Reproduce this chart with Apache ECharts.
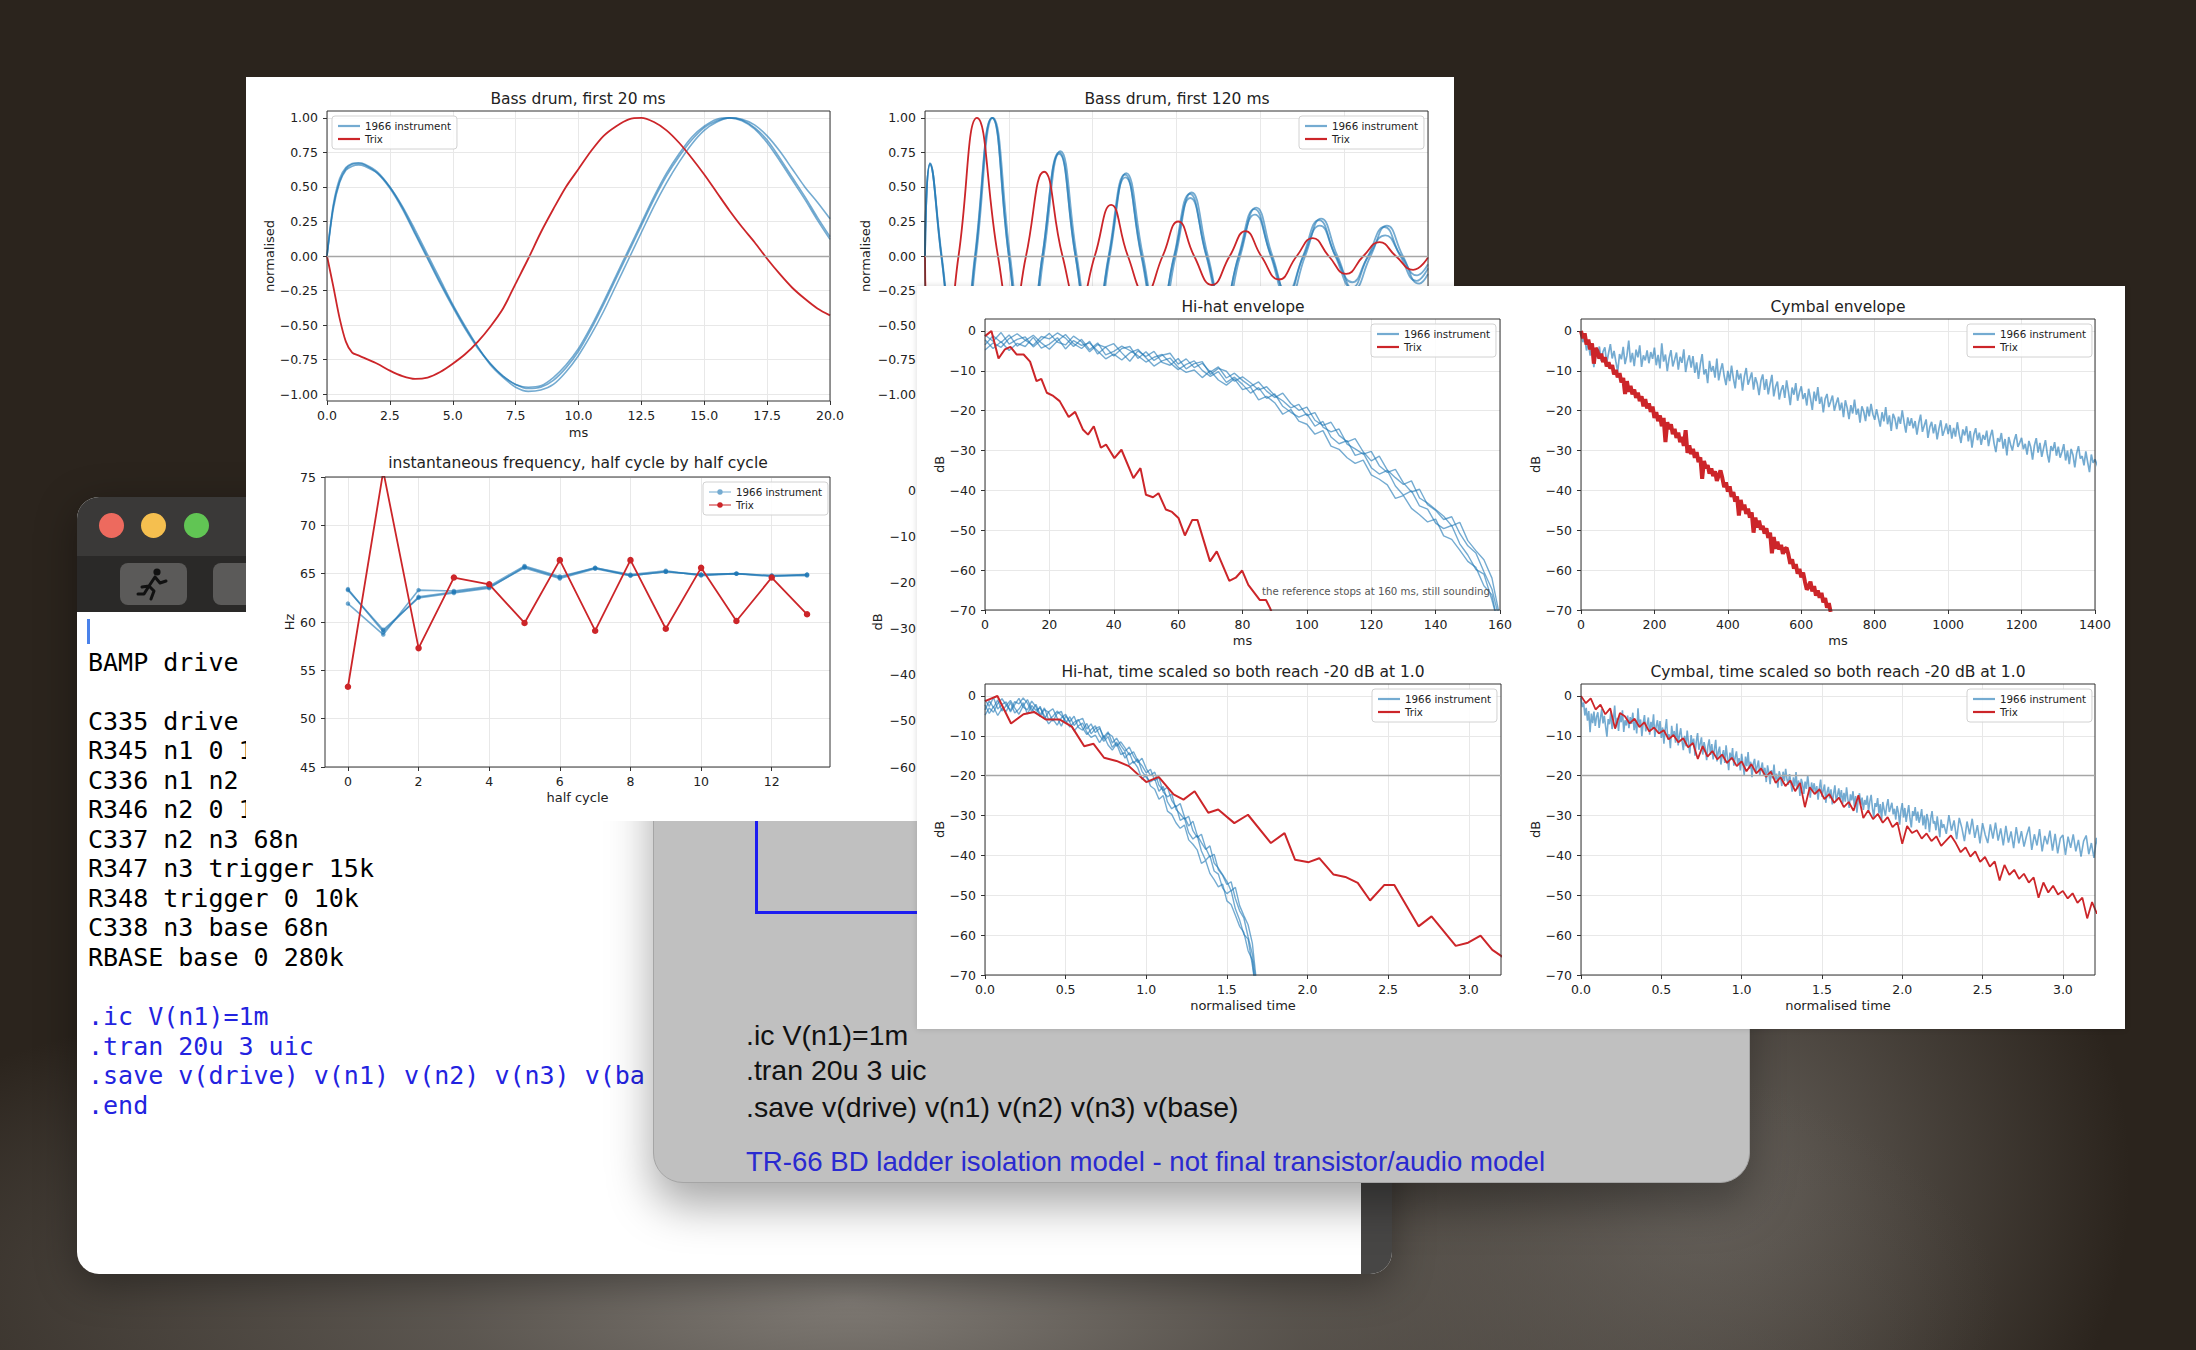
<!DOCTYPE html>
<html>
<head>
<meta charset="utf-8">
<script src="https://cdn.jsdelivr.net/npm/echarts@6/dist/echarts.min.js"></script>
<style>
html,body{margin:0;padding:0;width:2196px;height:1350px;overflow:hidden;}
body{position:relative;background:
 radial-gradient(ellipse 1150px 360px at 850px 1300px, rgba(128,123,117,1) 0%, rgba(100,95,89,0.85) 35%, rgba(43,36,29,0) 100%),
 radial-gradient(ellipse 430px 430px at 1700px 1180px, rgba(110,105,99,0.9) 0%, rgba(43,36,29,0) 100%),
 #2b241d;}
#editor{position:absolute;left:77px;top:497px;width:1315px;height:777px;border-radius:22px;overflow:hidden;background:#fff;box-shadow:0 10px 40px rgba(0,0,0,0.35);}
#editor .titlebar{position:absolute;left:0;top:0;width:100%;height:59px;background:#3a3938;}
#editor .toolbar{position:absolute;left:0;top:59px;width:100%;height:56px;background:#2a2928;}
.tl{position:absolute;top:15.5px;width:25px;height:25px;border-radius:50%;}
.tl.r{left:21.5px;background:#ed6a5e;}
.tl.y{left:63.5px;background:#f5bf4f;}
.tl.g{left:106.5px;background:#61c554;}
.btn{position:absolute;top:7px;height:42px;width:67px;border-radius:8px;background:#5b5a59;}
#editor .rstrip{position:absolute;right:0;top:115px;bottom:0;width:31px;background:#474645;}
#editor .cursor{position:absolute;left:10px;top:122px;width:3px;height:25px;background:#4a82ea;}
#editor .code{position:absolute;left:11px;top:121px;margin:0;font:25px/29.55px 'DejaVu Sans Mono',monospace;color:#000;white-space:pre;}
#editor .code div{height:29.55px;}
#editor .code .b{color:#2323df;}
#grey{position:absolute;left:653px;top:680px;width:1097px;height:503px;background:#c0c0c0;border-radius:0 0 30px 30px;box-shadow:0 22px 45px rgba(0,0,0,0.35);border:1px solid #a5a5a5;box-sizing:border-box;}
#grey .vl{position:absolute;left:101px;top:0;width:3px;height:233px;background:#1d1df0;}
#grey .hl{position:absolute;left:101px;top:230px;width:200px;height:3px;background:#1d1df0;}
#grey .t{position:absolute;left:92px;font:28.5px/34px 'Liberation Sans',Arial,sans-serif;color:#111;white-space:pre;}
#grey .t.b{color:#2a2ad0;font-size:27.6px;}
#p1{position:absolute;left:246px;top:77px;width:1208px;height:744px;background:#fff;}
#p2{position:absolute;left:917px;top:286px;width:1208px;height:743px;background:#fff;box-shadow:0 0 6px rgba(0,0,0,0.15);}
.chart{position:absolute;left:0;top:0;width:100%;height:100%;}
</style>
</head>
<body>
<div id="editor">
  <div class="titlebar"><span class="tl r"></span><span class="tl y"></span><span class="tl g"></span></div>
  <div class="toolbar">
    <div class="btn" style="left:43px;">
      <svg width="67" height="42" viewBox="0 0 67 42"><g stroke="#111" stroke-width="3" fill="none" stroke-linecap="round" stroke-linejoin="round"><circle cx="37" cy="9" r="3.6" fill="#111" stroke="none"/><path d="M35 14 L29 23 L22 24 M35 14 L40 20 L46 18 M29 23 L34 28 L31 36 M29 23 L24 31 L18 31"/></g></svg>
    </div>
    <div class="btn" style="left:136px;"></div>
  </div>
  <div class="cursor"></div>
  <div class="code"><div></div><div>BAMP drive</div><div></div><div>C335 drive</div><div>R345 n1 0 1</div><div>C336 n1 n2</div><div>R346 n2 0 1</div><div>C337 n2 n3 68n</div><div>R347 n3 trigger 15k</div><div>R348 trigger 0 10k</div><div>C338 n3 base 68n</div><div>RBASE base 0 280k</div><div></div><div class="b">.ic V(n1)=1m</div><div class="b">.tran 20u 3 uic</div><div class="b">.save v(drive) v(n1) v(n2) v(n3) v(ba</div><div class="b">.end</div></div>
  <div class="rstrip"></div>
</div>

<div id="grey">
  <div class="vl"></div><div class="hl"></div>
  <div class="t" style="top:337px;">.ic V(n1)=1m</div>
  <div class="t" style="top:372px;">.tran 20u 3 uic</div>
  <div class="t" style="top:409px;">.save v(drive) v(n1) v(n2) v(n3) v(base)</div>
  <div class="t b" style="top:464px;">TR-66 BD ladder isolation model - not final transistor/audio model</div>
</div>

<div id="p1"><div id="c1" class="chart"></div></div>
<div id="p2"><div id="c2" class="chart"></div></div>

<script>
// ===================== DATA =====================
const seriesNames = ['1966 instrument', 'Trix'];

// --- Bass drum, first 20 ms (ms, normalised) ---
const bd20Time = [0,0.25,0.5,0.75,1,1.25,1.5,2,2.5,3,3.5,4,4.5,5,5.5,6,6.5,7,7.5,8,8.5,9,9.5,10,10.5,11,11.5,12,12.5,13,13.5,14,14.5,15,15.5,16,16.5,17,17.5,18,18.5,19,19.5,20];
const bd20BlueA = [0,0.36,0.54,0.63,0.665,0.67,0.66,0.6,0.49,0.34,0.16,-0.02,-0.2,-0.37,-0.53,-0.67,-0.78,-0.87,-0.93,-0.95,-0.94,-0.88,-0.79,-0.67,-0.51,-0.33,-0.14,0.05,0.24,0.43,0.6,0.74,0.86,0.94,0.99,1.0,0.98,0.92,0.82,0.69,0.55,0.41,0.26,0.12];
const bd20BlueB = [0,0.34,0.53,0.62,0.65,0.66,0.65,0.6,0.5,0.36,0.19,0.01,-0.17,-0.35,-0.51,-0.66,-0.79,-0.88,-0.95,-0.98,-0.97,-0.93,-0.84,-0.72,-0.57,-0.4,-0.21,-0.02,0.17,0.36,0.53,0.68,0.81,0.91,0.97,1.0,0.99,0.95,0.87,0.76,0.63,0.5,0.39,0.27];
const bd20BlueC = [0,0.37,0.56,0.64,0.67,0.675,0.665,0.61,0.5,0.35,0.17,-0.01,-0.19,-0.36,-0.52,-0.66,-0.78,-0.87,-0.93,-0.96,-0.95,-0.9,-0.81,-0.69,-0.53,-0.35,-0.16,0.03,0.22,0.41,0.58,0.72,0.84,0.93,0.98,1.0,0.985,0.93,0.84,0.71,0.57,0.43,0.28,0.14];
const bd20Trix  = [0,-0.22,-0.45,-0.62,-0.7,-0.72,-0.74,-0.78,-0.83,-0.87,-0.89,-0.88,-0.84,-0.78,-0.71,-0.62,-0.51,-0.38,-0.2,-0.02,0.17,0.34,0.5,0.63,0.76,0.87,0.94,0.99,1.0,0.97,0.91,0.82,0.71,0.59,0.46,0.33,0.21,0.1,-0.02,-0.13,-0.23,-0.31,-0.38,-0.43];

// --- Bass drum, first 120 ms: [ms, normalised] at peaks / zero crossings ---
const bd120BlueA = [[0,0],[1.2,0.67],[3.9,0],[8.1,-0.95],[11.9,0],[16.0,1.0],[20.0,0],[24.0,-0.85],[28.0,0],[32.0,0.75],[35.9,0],[39.9,-0.66],[43.8,0],[47.7,0.59],[51.6,0],[55.5,-0.52],[59.4,0],[63.2,0.45],[67.1,0],[71.0,-0.39],[74.8,0],[78.6,0.34],[82.5,0],[86.3,-0.3],[90.2,0],[94.0,0.26],[97.9,0],[101.8,-0.23],[105.7,0],[109.6,0.21],[113.4,0],[117.3,-0.18],[120,-0.09]];
const bd120BlueB = [[0,0],[1.2,0.66],[4.0,0],[8.3,-0.98],[12.2,0],[16.2,1.0],[20.3,0],[24.3,-0.87],[28.3,0],[32.3,0.76],[36.2,0],[40.2,-0.68],[44.1,0],[48.0,0.6],[52.0,0],[55.9,-0.53],[59.8,0],[63.6,0.46],[67.5,0],[71.4,-0.41],[75.2,0],[79.0,0.35],[82.9,0],[86.8,-0.31],[90.7,0],[94.5,0.27],[98.4,0],[102.3,-0.24],[106.3,0],[110.2,0.22],[114.0,0],[117.9,-0.2],[120,-0.13]];
const bd120BlueC = [[0,0],[1.2,0.67],[3.9,0],[8.1,-0.96],[12.0,0],[16.0,1.0],[20.0,0],[24.1,-0.83],[28.0,0],[32.0,0.74],[35.9,0],[39.9,-0.63],[43.9,0],[47.8,0.57],[51.7,0],[55.6,-0.48],[59.5,0],[63.3,0.42],[67.2,0],[71.1,-0.36],[74.9,0],[78.7,0.3],[82.6,0],[86.4,-0.26],[90.3,0],[94.2,0.22],[98.0,0],[101.9,-0.19],[105.8,0],[109.8,0.15],[113.6,0],[117.4,-0.14],[120,-0.06]];
const bd120Trix  = [[0,0],[0.9,-0.68],[3.5,-0.89],[8.0,0],[12.4,1.0],[17.4,0],[20.75,-0.47],[24.1,0],[28.4,0.61],[32.8,0],[36.65,-0.36],[40.5,0],[44.4,0.37],[48.4,0],[52.55,-0.27],[56.7,0],[60.4,0.25],[64.2,0],[68.45,-0.21],[72.7,0],[76.45,0.18],[80.2,0],[84.45,-0.17],[88.7,0],[92.5,0.13],[96.3,0],[100.45,-0.13],[104.6,0],[108.45,0.1],[112.3,0],[116.45,-0.1],[120,-0.01]];

// --- instantaneous frequency (Hz) per half cycle ---
const halfCycles = [0,1,2,3,4,5,6,7,8,9,10,11,12,13];
const freqBlue1 = [63.3,59.2,62.5,63.0,63.5,65.7,64.6,65.6,64.8,65.2,64.9,65.0,64.8,64.9];
const freqBlue2 = [61.9,58.7,63.3,63.2,63.7,65.8,64.7,65.6,64.9,65.3,64.8,65.0,64.7,64.9];
const freqBlue3 = [63.4,59.0,62.6,63.1,63.6,65.6,64.5,65.5,64.8,65.2,64.9,65.0,64.8,64.8];
const freqTrix  = [53.3,75.6,57.3,64.6,63.9,59.9,66.4,59.1,66.4,59.3,65.6,60.1,64.6,60.8];

// --- Hi-hat envelope (dB), sampled every hatStepMs ---
const hatStepMs = 2.5;
const hatBlue1 = [-1.0,-2.6,-0.4,-3.3,-2.1,-1.5,-4.0,-2.2,-0.6,-2.8,-3.5,-1.3,-2.7,-5.2,-3.4,-4.1,-6.3,-4.4,-3.9,-6.9,-5.2,-7.4,-6.1,-5.6,-8.3,-7.0,-9.2,-8.1,-10.3,-9.0,-11.8,-10.6,-12.4,-13.9,-12.8,-15.1,-16.7,-15.6,-18.2,-19.9,-19.1,-22.4,-23.7,-22.9,-26.2,-27.8,-27.0,-30.3,-32.6,-31.4,-34.9,-36.8,-38.5,-37.6,-41.9,-43.2,-44.8,-46.5,-48.9,-48.0,-52.6,-55.1,-57.4,-62.0,-72.0];
const hatBlue2 = [-3.5,-1.2,-2.9,-1.0,-3.8,-2.4,-1.1,-3.0,-4.6,-2.5,-0.9,-3.2,-4.4,-2.6,-5.8,-4.0,-3.2,-5.5,-7.6,-5.0,-6.4,-5.1,-7.9,-8.6,-6.9,-9.5,-8.2,-7.7,-10.9,-9.4,-10.1,-12.6,-11.5,-13.0,-14.8,-14.0,-16.2,-17.5,-19.3,-18.4,-21.2,-20.5,-24.1,-25.3,-24.6,-28.4,-29.6,-30.9,-30.2,-33.8,-35.5,-34.7,-38.1,-40.4,-39.7,-43.6,-45.0,-47.3,-46.6,-50.8,-53.9,-55.7,-60.4,-64.8,-73.0];
const hatBlue3 = [-4.8,-3.0,-4.1,-1.9,-0.7,-2.3,-3.6,-1.4,-2.0,-0.5,-1.8,-3.9,-2.1,-4.7,-3.0,-6.0,-5.1,-3.8,-4.9,-6.2,-7.8,-6.6,-5.9,-8.0,-9.7,-8.4,-7.5,-9.9,-11.4,-10.2,-12.9,-11.6,-13.4,-15.6,-14.2,-16.9,-15.8,-18.9,-20.4,-21.6,-20.8,-23.9,-22.7,-26.6,-28.3,-27.5,-31.2,-30.6,-34.3,-35.9,-35.0,-38.9,-41.2,-40.1,-43.9,-44.7,-48.2,-49.6,-48.8,-53.4,-56.2,-59.8,-61.0,-67.5,-75.0];
const hatBlue4 = [-2.2,-4.4,-2.7,-4.9,-3.1,-3.9,-1.6,-4.3,-3.3,-1.7,-4.5,-2.4,-3.6,-3.0,-5.0,-7.0,-5.8,-7.3,-5.5,-4.6,-6.7,-8.8,-7.5,-6.8,-9.1,-10.4,-9.8,-11.7,-10.0,-12.3,-13.6,-12.0,-14.7,-14.1,-17.3,-16.4,-18.0,-20.9,-19.7,-22.6,-23.4,-25.9,-25.0,-28.9,-29.7,-31.8,-33.2,-32.4,-36.1,-37.2,-38.6,-42.0,-41.3,-44.5,-46.1,-47.9,-47.2,-51.4,-52.3,-55.0,-57.8,-59.3,-63.9,-66.2,-76.0];
// Trix hi-hat envelope: [ms, dB]
const hatTrix = [[0,-1.3],[2,0],[4.2,-6.9],[6.2,-4.6],[7.9,-4.0],[9.8,-5.9],[12.0,-5.9],[14.0,-7.7],[16.0,-12.6],[17.5,-12.0],[19.2,-15.5],[21.2,-16.3],[23.2,-17.6],[26.0,-21.6],[28.0,-20.3],[30.4,-24.7],[32.0,-26.0],[33.8,-23.9],[36.0,-29.3],[37.6,-28.5],[40.2,-31.9],[42.4,-29.8],[46.1,-36.9],[48.3,-34.4],[50.0,-41.1],[52.2,-41.7],[53.9,-40.7],[56.2,-44.8],[58.1,-45.4],[60.1,-46.9],[62.1,-51.3],[64.4,-47.4],[66.0,-47.4],[69.9,-57.8],[72.0,-55.3],[75.9,-62.7],[77.9,-61.9],[79.9,-60.1],[81.8,-63.7],[85.4,-67.5],[87.3,-67.5],[88.6,-69.6],[89.5,-71.5]];
// time (ms) at which each first reaches -20 dB (used for the normalised-time panels)
const hatBlueT20 = 95;
const hatTrixT20 = 26;

// --- Cymbal envelope (dB) ---
// 1966 instrument: 0..1400 ms every 5 ms, then 1410..2240 ms every 10 ms
const cymBlueEarlyStepMs = 5;
const cymBlueEarly = [
 -0.5,-2.8,-1.6,-4.9,-3.0,-6.2,-3.8,-9.1,-4.4,-6.8,-3.9,-7.5,-5.2,-4.1,-8.0,-5.6,-3.3,-6.9,-5.0,-7.7,
 -10.2,-5.8,-7.1,-4.0,-8.3,-6.2,-2.4,-7.9,-5.5,-8.8,-4.7,-6.6,-3.6,-9.0,-6.1,-7.4,-4.9,-8.1,-5.3,-7.0,
 -4.2,-8.6,-6.0,-9.4,-3.1,-7.7,-5.9,-10.1,-6.8,-4.8,-8.9,-7.2,-5.4,-9.7,-6.5,-8.0,-4.6,-10.3,-7.6,-6.1,
 -9.2,-6.3,-10.5,-7.9,-12.0,-8.4,-5.8,-10.9,-9.6,-13.1,-7.5,-10.2,-8.8,-11.7,-6.9,-12.4,-9.9,-8.1,-11.3,-13.6,
 -10.0,-12.6,-8.7,-11.9,-14.4,-9.8,-12.2,-10.7,-15.0,-11.4,-9.3,-13.5,-12.0,-10.4,-14.7,-11.6,-13.2,-16.1,-12.5,-10.9,
 -14.8,-12.1,-15.9,-13.3,-11.0,-16.4,-14.0,-12.7,-17.2,-14.9,-13.6,-16.8,-12.4,-15.3,-18.6,-14.2,-16.0,-13.1,-17.5,-15.4,
 -13.9,-17.1,-15.6,-18.7,-14.5,-16.9,-19.8,-15.2,-17.6,-14.1,-18.3,-16.5,-20.4,-17.0,-15.8,-19.1,-17.7,-16.2,-20.0,-18.2,
 -16.7,-19.9,-18.0,-21.6,-17.4,-19.3,-22.1,-18.6,-20.7,-17.2,-21.0,-19.5,-23.0,-18.9,-20.2,-22.6,-19.0,-21.4,-18.3,-20.9,
 -22.3,-19.6,-21.8,-24.0,-20.4,-22.7,-19.1,-23.4,-21.2,-25.1,-20.8,-22.0,-24.6,-21.5,-23.3,-19.9,-22.9,-25.5,-21.7,-23.8,
 -21.9,-24.4,-22.6,-26.0,-23.1,-21.0,-25.3,-23.7,-22.2,-26.8,-24.1,-22.8,-25.7,-23.4,-27.2,-24.5,-22.4,-26.3,-24.9,-23.2,
 -25.9,-23.6,-27.0,-24.3,-26.5,-22.9,-25.8,-28.1,-24.7,-26.2,-23.9,-27.7,-25.1,-29.3,-26.0,-24.4,-27.4,-25.5,-28.6,-26.1,
 -27.3,-25.0,-28.9,-26.4,-24.8,-28.2,-30.4,-26.9,-27.8,-25.6,-29.5,-27.1,-31.2,-26.6,-28.5,-30.0,-27.5,-25.9,-29.1,-28.0,
 -26.8,-29.7,-28.3,-31.0,-27.6,-29.2,-32.3,-28.7,-26.9,-30.5,-28.1,-31.6,-29.4,-27.4,-30.8,-33.0,-28.9,-30.1,-27.9,-31.3,
 -29.0,-31.8,-30.3,-28.4,-32.5,-30.0,-33.4,-29.6,-31.1,-34.2,-30.7,-28.9,-32.0,-31.4,-33.7,-30.2,-32.9,-35.4,-31.0,-33.1,
 -32.2];
const cymBlueLateStartMs = 1410;
const cymBlueLateStepMs = 10;
const cymBlueLate = [
 -34.6,-29.9,-33.8,-31.2,-35.9,-30.6,-33.1,-36.4,-31.5,
 -34.7,-30.8,-35.6,-32.4,-37.0,-31.9,-34.8,-36.9,-32.2,-35.8,
 -31.8,-36.3,-33.2,-37.5,-32.6,-36.8,-34.0,-38.2,-32.9,-37.0,
 -33.9,-37.8,-35.0,-32.8,-38.6,-34.7,-37.5,-33.4,-39.0,-35.1,
 -37.2,-33.8,-38.8,-34.6,-39.5,-35.7,-34.9,-39.9,-35.3,-38.1,
 -34.7,-39.0,-36.1,-40.3,-36.4,-35.0,-39.7,-36.9,-40.6,-35.6,
 -39.3,-35.9,-40.5,-36.8,-41.4,-36.2,-39.7,-42.2,-36.6,-40.1,
 -36.0,-40.9,-37.6,-41.8,-37.1,-40.2,-42.6,-37.4,-41.1,-38.0,
 -41.9,-38.5,-45.5,-38.0,-41.8];
// Trix: 0..680 ms every 5 ms
const cymTrixStepMs = 5;
const cymTrix = [
 0.0,-1.8,-0.6,-3.4,-2.2,-4.6,-3.1,-8.2,-4.3,-5.1,
 -6.9,-5.7,-7.8,-6.6,-8.9,-7.9,-9.4,-8.6,-10.9,-9.8,
 -11.6,-10.6,-12.9,-11.8,-15.8,-12.6,-15.2,-13.8,-15.9,-14.7,
 -16.8,-15.5,-17.6,-16.4,-18.9,-17.1,-19.4,-18.2,-20.3,-19.0,
 -21.8,-20.4,-22.6,-21.2,-23.9,-21.8,-27.9,-22.9,-24.6,-23.4,
 -25.9,-24.6,-26.8,-25.5,-27.9,-26.6,-28.8,-24.9,-30.6,-28.7,
 -30.9,-29.6,-31.8,-30.4,-32.9,-31.7,-37.1,-32.6,-34.4,-33.7,
 -35.8,-34.5,-36.4,-35.2,-37.6,-36.3,-35.0,-36.9,-39.2,-38.0,
 -40.3,-39.0,-41.6,-40.4,-42.8,-41.5,-46.3,-42.4,-44.9,-43.6,
 -45.9,-44.6,-46.8,-45.5,-50.6,-46.8,-49.3,-47.6,-49.8,-48.9,
 -50.8,-49.5,-51.9,-50.6,-55.8,-51.7,-54.6,-52.9,-54.8,-53.7,
 -55.9,-54.7,-54.4,-56.1,-58.4,-57.3,-59.6,-58.5,-60.9,-59.7,
 -61.8,-60.6,-62.9,-64.9,-64.2,-62.9,-65.3,-64.0,-66.4,-65.1,
 -66.9,-65.7,-68.1,-67.0,-69.4,-68.3,-70.5];
const cymBlueT20 = 620;
const cymTrixT20 = 165;

// --- tick values ---
const bd20Ticks = [0,2.5,5,7.5,10,12.5,15,17.5,20];
const normTicks = [-1,-0.75,-0.5,-0.25,0,0.25,0.5,0.75,1];
const bd120Ticks = [0,20,40,60,80,100,120];
const halfCycleTicks = [0,2,4,6,8,10,12];
const hzTicks = [45,50,55,60,65,70,75];
const dbTicks = [-70,-60,-50,-40,-30,-20,-10,0];
const dbTicksUpper = [-60,-50,-40,-30,-20,-10,0];
const hatMsTicks = [0,20,40,60,80,100,120,140,160];
const cymMsTicks = [0,200,400,600,800,1000,1200,1400];
const normTimeTicks = [0,0.5,1,1.5,2,2.5,3];

// --- titles / notes ---
const titles1 = ['Bass drum, first 20 ms', 'Bass drum, first 120 ms', 'instantaneous frequency, half cycle by half cycle'];
const titles2 = ['Hi-hat envelope', 'Cymbal envelope', 'Hi-hat, time scaled so both reach -20 dB at 1.0', 'Cymbal, time scaled so both reach -20 dB at 1.0'];
const hatNote = 'the reference stops at 160 ms, still sounding';

// ===================== STYLE / BUILDERS =====================
const FONT = 'DejaVu Sans';
const BLUE = 'rgba(31,119,180,0.62)';
const RED = '#cc2529';

function mfmt(d) { return function (v) { return (v < 0 ? '\u2212' : '') + Math.abs(v).toFixed(d); }; }
function gr(left, top, width, height) {
  return {left, top, width, height, show: true, z: 5, borderColor: '#333', borderWidth: 1,
          backgroundColor: 'rgba(0,0,0,0)', containLabel: false, outerBoundsMode: 'none'};
}
function ax(gi, min, max, ticks, dec, name, gap, margin) {
  return {
    type: 'value', gridIndex: gi, min: min, max: max, scale: false,
    name: name, nameLocation: 'middle', nameGap: gap,
    nameTextStyle: {fontFamily: FONT, fontSize: 13, color: '#222'},
    axisLine: {show: false, onZero: false},
    axisTick: {show: true, inside: false, length: 4, lineStyle: {color: '#333', width: 1}, customValues: ticks},
    axisLabel: {show: true, margin: margin, customValues: ticks, formatter: mfmt(dec), fontFamily: FONT, fontSize: 12.5, color: '#222'},
    splitLine: {show: true, lineStyle: {color: '#e8e8e8', width: 1}},
    minorTick: {show: false}, splitArea: {show: false}
  };
}
function ln(name, data, idx, color, width, extra) {
  return Object.assign({
    type: 'line', name: name, data: data, xAxisIndex: idx, yAxisIndex: idx,
    showSymbol: false, symbol: 'none', clip: true, smooth: false,
    lineStyle: {color: color, width: width}, itemStyle: {color: color},
    emphasis: {disabled: true}, animation: false, silent: true, z: 3
  }, extra || {});
}
function lg(left, top, markers) {
  return {
    left: left, top: top, orient: 'vertical', data: seriesNames, selectedMode: false,
    icon: markers ? 'path://M0,4.4 L22,4.4 L22,5.6 L0,5.6 Z M11,2.2 A2.8,2.8 0 1 1 10.99,2.2 Z' : 'rect',
    itemWidth: 22, itemHeight: markers ? 5.6 : 2.2, itemGap: 3,
    padding: [5, 6, 5, 6], backgroundColor: 'rgba(255,255,255,0.85)',
    borderColor: '#d2d2d2', borderWidth: 1, borderRadius: 3,
    itemStyle: {borderWidth: 0}, lineStyle: {width: 0},
    textStyle: {fontFamily: FONT, fontSize: 10.3, color: '#222'}, z: 8
  };
}
function gtext(x, y, text, size, align, color) {
  return {type: 'text', x: x, y: y, z: 9, silent: true,
          style: {text: text, fontSize: size, fontFamily: FONT, fill: color || '#222',
                  align: align || 'center', textAlign: align || 'center', verticalAlign: 'middle', textVerticalAlign: 'middle'}};
}
function hline(v) {
  return {silent: true, symbol: ['none', 'none'], animation: false, label: {show: false},
          lineStyle: {color: '#a6a6a6', width: 1.3, type: 'solid'}, data: [{yAxis: v}]};
}
function zip(xs, ys) { return ys.map(function (y, i) { return [xs[i], y]; }); }
function stepped(vals, step, scale, start) { return vals.map(function (v, i) { return [((start || 0) + i * step) / (scale || 1), v]; }); }
function scaledPairs(pairs, scale) { return pairs.map(function (p) { return [p[0] / scale, p[1]]; }); }
function cymBluePairs(scale) {
  return stepped(cymBlueEarly, cymBlueEarlyStepMs, scale).concat(stepped(cymBlueLate, cymBlueLateStepMs, scale, cymBlueLateStartMs));
}

// ===================== PANEL 1 =====================
const c1 = echarts.init(document.getElementById('c1'), null, {renderer: 'svg'});
c1.setOption({
  animation: false,
  grid: [gr(81, 34, 503, 290), gr(679, 34, 503, 290), gr(79, 400, 505, 290), gr(679, 400, 503, 290)],
  xAxis: [
    ax(0, 0, 20, bd20Ticks, 1, 'ms', 25, 8),
    ax(1, 0, 120, bd120Ticks, 0, 'ms', 25, 8),
    ax(2, -0.65, 13.65, halfCycleTicks, 0, 'half cycle', 24, 8),
    ax(3, 0, 160, hatMsTicks, 0, 'ms', 25, 8)
  ],
  yAxis: [
    ax(0, -1.05, 1.05, normTicks, 2, 'normalised', 51, 9),
    ax(1, -1.05, 1.05, normTicks, 2, 'normalised', 53, 9),
    ax(2, 45, 75, hzTicks, 0, 'Hz', 27, 9),
    ax(3, -60, 3, dbTicksUpper, 0, 'dB', 41, 9)
  ],
  legend: [lg(86, 39, false), lg(1053, 39, false), lg(457, 405, true)],
  graphic: [
    gtext(332, 22, titles1[0], 15.5), gtext(931, 22, titles1[1], 15.5), gtext(332, 386, titles1[2], 15.5)
  ],
  series: [
    ln(seriesNames[0], zip(bd20Time, bd20BlueA), 0, BLUE, 1.6, {smooth: 0.3, markLine: hline(0)}),
    ln(seriesNames[0], zip(bd20Time, bd20BlueB), 0, BLUE, 1.6, {smooth: 0.3}),
    ln(seriesNames[0], zip(bd20Time, bd20BlueC), 0, BLUE, 1.6, {smooth: 0.3}),
    ln(seriesNames[1], zip(bd20Time, bd20Trix), 0, RED, 1.8, {smooth: 0.3, z: 4}),

    ln(seriesNames[0], bd120BlueA, 1, BLUE, 1.8, {smooth: 0.5, markLine: hline(0)}),
    ln(seriesNames[0], bd120BlueB, 1, BLUE, 1.8, {smooth: 0.5}),
    ln(seriesNames[0], bd120BlueC, 1, BLUE, 1.8, {smooth: 0.5}),
    ln(seriesNames[1], bd120Trix, 1, RED, 1.8, {smooth: 0.5, z: 4}),

    ln(seriesNames[0], zip(halfCycles, freqBlue1), 2, BLUE, 1.6, {showSymbol: true, symbol: 'circle', symbolSize: 4.5}),
    ln(seriesNames[0], zip(halfCycles, freqBlue2), 2, BLUE, 1.6, {showSymbol: true, symbol: 'circle', symbolSize: 4.5}),
    ln(seriesNames[0], zip(halfCycles, freqBlue3), 2, BLUE, 1.6, {showSymbol: true, symbol: 'circle', symbolSize: 4.5}),
    ln(seriesNames[1], zip(halfCycles, freqTrix), 2, RED, 1.8, {showSymbol: true, symbol: 'circle', symbolSize: 6.5, z: 4})
  ]
});

// ===================== PANEL 2 =====================
const c2 = echarts.init(document.getElementById('c2'), null, {renderer: 'svg'});
c2.setOption({
  animation: false,
  grid: [gr(68, 33, 515, 291), gr(664, 33, 514, 291), gr(68, 398, 516, 291), gr(664, 398, 514, 291)],
  xAxis: [
    ax(0, 0, 160, hatMsTicks, 0, 'ms', 24, 8),
    ax(1, 0, 1400, cymMsTicks, 0, 'ms', 24, 8),
    ax(2, 0, 3.2, normTimeTicks, 1, 'normalised time', 24, 8),
    ax(3, 0, 3.2, normTimeTicks, 1, 'normalised time', 24, 8)
  ],
  yAxis: [
    ax(0, -70, 3, dbTicks, 0, 'dB', 39, 9),
    ax(1, -70, 3, dbTicks, 0, 'dB', 39, 9),
    ax(2, -70, 3, dbTicks, 0, 'dB', 39, 9),
    ax(3, -70, 3, dbTicks, 0, 'dB', 39, 9)
  ],
  legend: [lg(454, 38, false), lg(1050, 38, false), lg(455, 403, false), lg(1050, 403, false)],
  graphic: [
    gtext(326, 21, titles2[0], 15.5), gtext(921, 21, titles2[1], 15.5),
    gtext(326, 386, titles2[2], 15.5), gtext(921, 386, titles2[3], 15.5),
    gtext(573, 305, hatNote, 10.2, 'right', '#555')
  ],
  series: [
    ln(seriesNames[0], stepped(hatBlue1, hatStepMs), 0, BLUE, 1.4),
    ln(seriesNames[0], stepped(hatBlue2, hatStepMs), 0, BLUE, 1.4),
    ln(seriesNames[0], stepped(hatBlue3, hatStepMs), 0, BLUE, 1.4),
    ln(seriesNames[0], stepped(hatBlue4, hatStepMs), 0, BLUE, 1.4),
    ln(seriesNames[1], hatTrix, 0, RED, 2, {z: 4}),

    ln(seriesNames[0], cymBluePairs(1), 1, BLUE, 1.7),
    ln(seriesNames[1], stepped(cymTrix, cymTrixStepMs), 1, RED, 4, {z: 4}),

    ln(seriesNames[0], stepped(hatBlue1, hatStepMs, hatBlueT20), 2, BLUE, 1.4, {markLine: hline(-20)}),
    ln(seriesNames[0], stepped(hatBlue2, hatStepMs, hatBlueT20), 2, BLUE, 1.4),
    ln(seriesNames[0], stepped(hatBlue3, hatStepMs, hatBlueT20), 2, BLUE, 1.4),
    ln(seriesNames[0], stepped(hatBlue4, hatStepMs, hatBlueT20), 2, BLUE, 1.4),
    ln(seriesNames[1], scaledPairs(hatTrix, hatTrixT20), 2, RED, 2, {z: 4}),

    ln(seriesNames[0], cymBluePairs(cymBlueT20), 3, BLUE, 1.6, {markLine: hline(-20)}),
    ln(seriesNames[1], stepped(cymTrix, cymTrixStepMs, cymTrixT20), 3, RED, 1.8, {z: 4})
  ]
});
</script>
</body>
</html>
